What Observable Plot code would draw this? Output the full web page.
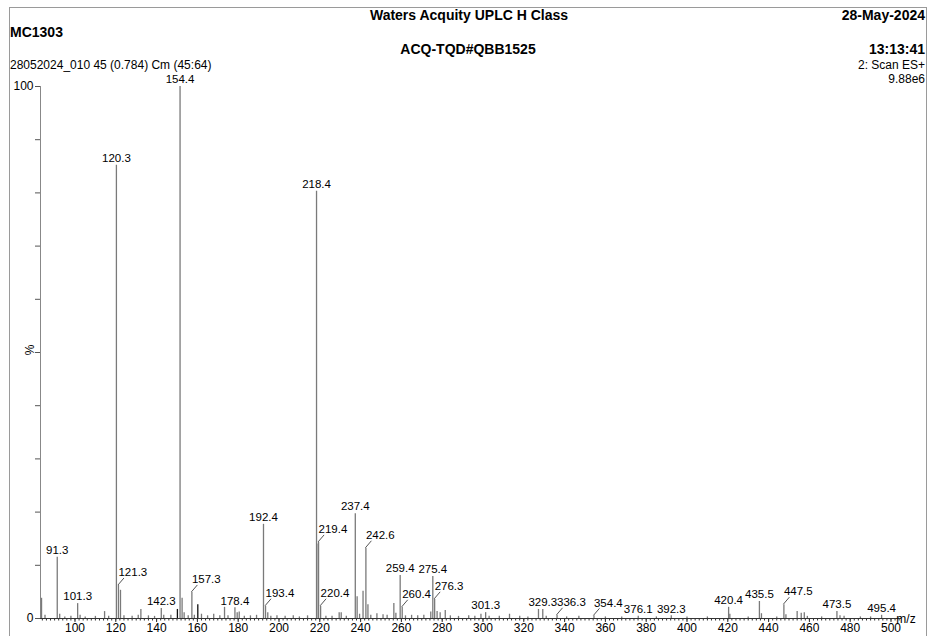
<!DOCTYPE html>
<html><head><meta charset="utf-8">
<script src="https://cdn.jsdelivr.net/npm/d3@7"></script>
<script src="https://cdn.jsdelivr.net/npm/@observablehq/plot@0.6"></script>
<style>
body{margin:0;background:#fff;}
#wrap{position:relative;width:934px;height:636px;overflow:hidden;}
#frame{position:absolute;left:9px;top:7px;width:918px;height:700px;border:1px solid #9a9a9a;box-sizing:border-box;pointer-events:none;}
svg{font-family:"Liberation Sans",Arial,sans-serif;}
</style></head>
<body><div id="wrap"><div id="frame"></div></div>
<script>
// Peak positions (m/z as drawn) and relative intensities (%)
const peakMz  = [83.6,85.3,91.3,92.5,95,98,101.3,102.5,105,110,114.5,116.5,120.3,121.3,122.3,124,128,131,132.3,136,139,142.3,143.5,147,150.2,151.5,152.5,153.5,155.5,157.3,158.5,160.2,162,165,168,171,173.3,175,178.4,179.5,180.5,183,186,189,192.4,193.4,194.5,196,199,203,207,210,214,218.4,219.2,219.4,220.4,223,226,229.5,230.5,233,237.4,238.3,239.5,241.2,242.6,243.6,245,248,251,253,256.3,257.3,259.4,260.4,262,265,268,271,274.4,275.4,276.3,277.5,279,281.5,284,288,293,296,299,301.3,303,308,313,318,322,327.2,329.3,331,336.3,341,347,354.4,360,368,376.1,385,392.3,400,410,420.4,421,430,435.5,436.5,444,447.5,448.5,454,456,457.5,459,466,473.5,475,477,485,490,495.4];
const peakPct = [3.8,0.6,11.5,0.8,0.3,0.4,2.8,0.6,0.3,0.4,1.3,0.4,85.2,6.2,5.3,0.5,0.4,0.6,1.7,0.5,0.4,1.9,0.6,0.6,1.7,100,3.8,1.1,0.5,4.9,0.6,2.6,0.8,0.5,0.8,0.5,2.1,0.5,2.0,1.1,1.2,0.4,0.5,0.6,17.7,2.3,1.1,0.4,0.5,0.4,0.5,0.3,0.5,80.3,14.0,14.3,2.3,0.4,0.4,1.1,1.1,0.4,19.7,4.1,0.8,5.1,13.2,2.6,0.6,0.9,0.7,0.6,2.8,1.0,8.1,2.1,0.5,0.6,0.5,0.6,1.2,7.9,3.6,1.3,1.1,1.5,0.5,0.4,0.5,0.4,0.8,1.1,0.4,0.4,0.8,0.4,0.3,1.7,1.7,0.4,0.6,0.3,0.4,0.5,0.3,0.3,0.4,0.3,0.5,0.3,0.3,2.1,0.8,0.3,3.2,0.9,0.3,2.6,0.7,1.3,1.0,1.1,0.4,0.3,1.3,0.5,0.4,0.3,0.3,0.6];
const darkMz = [150.2, 160.2];

// Labelled peaks: drawn position and printed label
const labelMz   = [91.3,101.3,120.3,121.3,142.3,151.5,157.3,178.4,192.4,193.4,218.4,219.4,220.4,237.4,242.6,259.4,260.4,275.4,276.3,301.3,329.3,336.3,354.4,376.1,392.3,420.4,435.5,447.5,473.5,495.4];
const labelText = ["91.3","101.3","120.3","121.3","142.3","154.4","157.3","178.4","192.4","193.4","218.4","219.4","220.4","237.4","242.6","259.4","260.4","275.4","276.3","301.3","329.3","336.3","354.4","376.1","392.3","420.4","435.5","447.5","473.5","495.4"];
const leaderLabels = ["121.3","157.3","193.4","219.4","220.4","242.6","260.4","276.3","336.3","354.4","447.5"];

// Axis ticks
const xMajor = d3.range(100, 501, 20);
const xMinor = d3.range(84, 505, 2);
const yTicks = d3.range(0, 101, 10);
const yLabelled = [0, 100];

const peaks = peakMz.map((mz, i) => ({mz, pct: peakPct[i], dark: darkMz.includes(mz)}));
const labels = labelMz.map((mz, i) => ({mz, text: labelText[i], pct: peakPct[peakMz.indexOf(mz)], leader: leaderLabels.includes(labelText[i])}));

const plot = Plot.plot({
  width: 934, height: 636,
  marginLeft: 40, marginRight: 33, marginTop: 86, marginBottom: 18,
  style: {fontFamily: '"Liberation Sans", Arial, sans-serif', fontSize: "12px", color: "#000", background: "transparent"},
  x: {domain: [83.09, 505.15], axis: null, label: null},
  y: {domain: [0, 100], axis: null, label: null},
  marks: [
    Plot.axisX({ticks: xMinor, tickSize: 2.5, tickFormat: () => "", stroke: "#333", label: null}),
    Plot.axisX({ticks: xMajor, tickSize: 4, tickPadding: 1, tickFormat: d => String(d), fill: "#000", stroke: "#333", fontSize: 12, label: null}),
    Plot.axisY({ticks: yTicks, tickSize: 5, tickPadding: 2, tickFormat: d => yLabelled.includes(d) ? String(d) : "", stroke: "#555", fontSize: 12, label: null}),
    Plot.ruleY([0], {stroke: "#333"}),
    Plot.ruleX([83.09], {stroke: "#888"}),
    Plot.ruleX(peaks, {x: "mz", y1: 0, y2: "pct", stroke: d => d.dark ? "#111" : "#7a7a7a", strokeWidth: 1.3}),
    Plot.text(labels.filter(d => !d.leader), {x: "mz", y: "pct", text: "text", dy: -7, fontSize: 11.5, fill: "#000"}),
    Plot.text(labels.filter(d => d.leader), {x: "mz", y: "pct", text: "text", dy: -13, dx: 0, textAnchor: "start", fontSize: 11.5, fill: "#000"})
  ]
});
document.getElementById("wrap").prepend(plot);

// leader lines via the plot's own scales
const sx = plot.scale("x"), sy = plot.scale("y");
const svg = d3.select(plot);
labels.filter(d => d.leader).forEach(d => {
  const x0 = sx.apply(d.mz), y0 = sy.apply(d.pct);
  svg.append("line").attr("x1", x0).attr("y1", y0).attr("x2", x0 + 6).attr("y2", y0 - 7)
    .attr("stroke", "#555").attr("stroke-width", 1);
});

// Header texts
const hdr = [
  {t: "Waters Acquity UPLC H Class", x: 469, y: 16, a: "middle", b: true},
  {t: "28-May-2024", x: 925, y: 16, a: "end", b: true},
  {t: "MC1303", x: 10, y: 33, a: "start", b: true},
  {t: "ACQ-TQD#QBB1525", x: 468, y: 50, a: "middle", b: true},
  {t: "13:13:41", x: 925, y: 50, a: "end", b: true},
  {t: "28052024_010 45 (0.784) Cm (45:64)", x: 10, y: 66, a: "start", b: false},
  {t: "2: Scan ES+", x: 925, y: 66, a: "end", b: false},
  {t: "9.88e6", x: 925, y: 80, a: "end", b: false}
];
hdr.forEach(h => {
  svg.append("text").attr("x", h.x).attr("y", h.y).attr("text-anchor", h.a)
    .attr("dominant-baseline", "middle")
    .attr("font-size", h.b ? 14 : 12).attr("font-weight", h.b ? "bold" : "normal")
    .attr("fill", "#000").text(h.t);
});
svg.append("text").attr("x", 906).attr("y", 620).attr("dominant-baseline", "middle")
  .attr("font-size", 12).attr("fill", "#000").text("m/z");
svg.append("text").attr("transform", "translate(31,350) rotate(-90)").attr("text-anchor", "middle")
  .attr("dominant-baseline", "middle").attr("font-size", 12).attr("fill", "#000").text("%");
</script></body></html>
